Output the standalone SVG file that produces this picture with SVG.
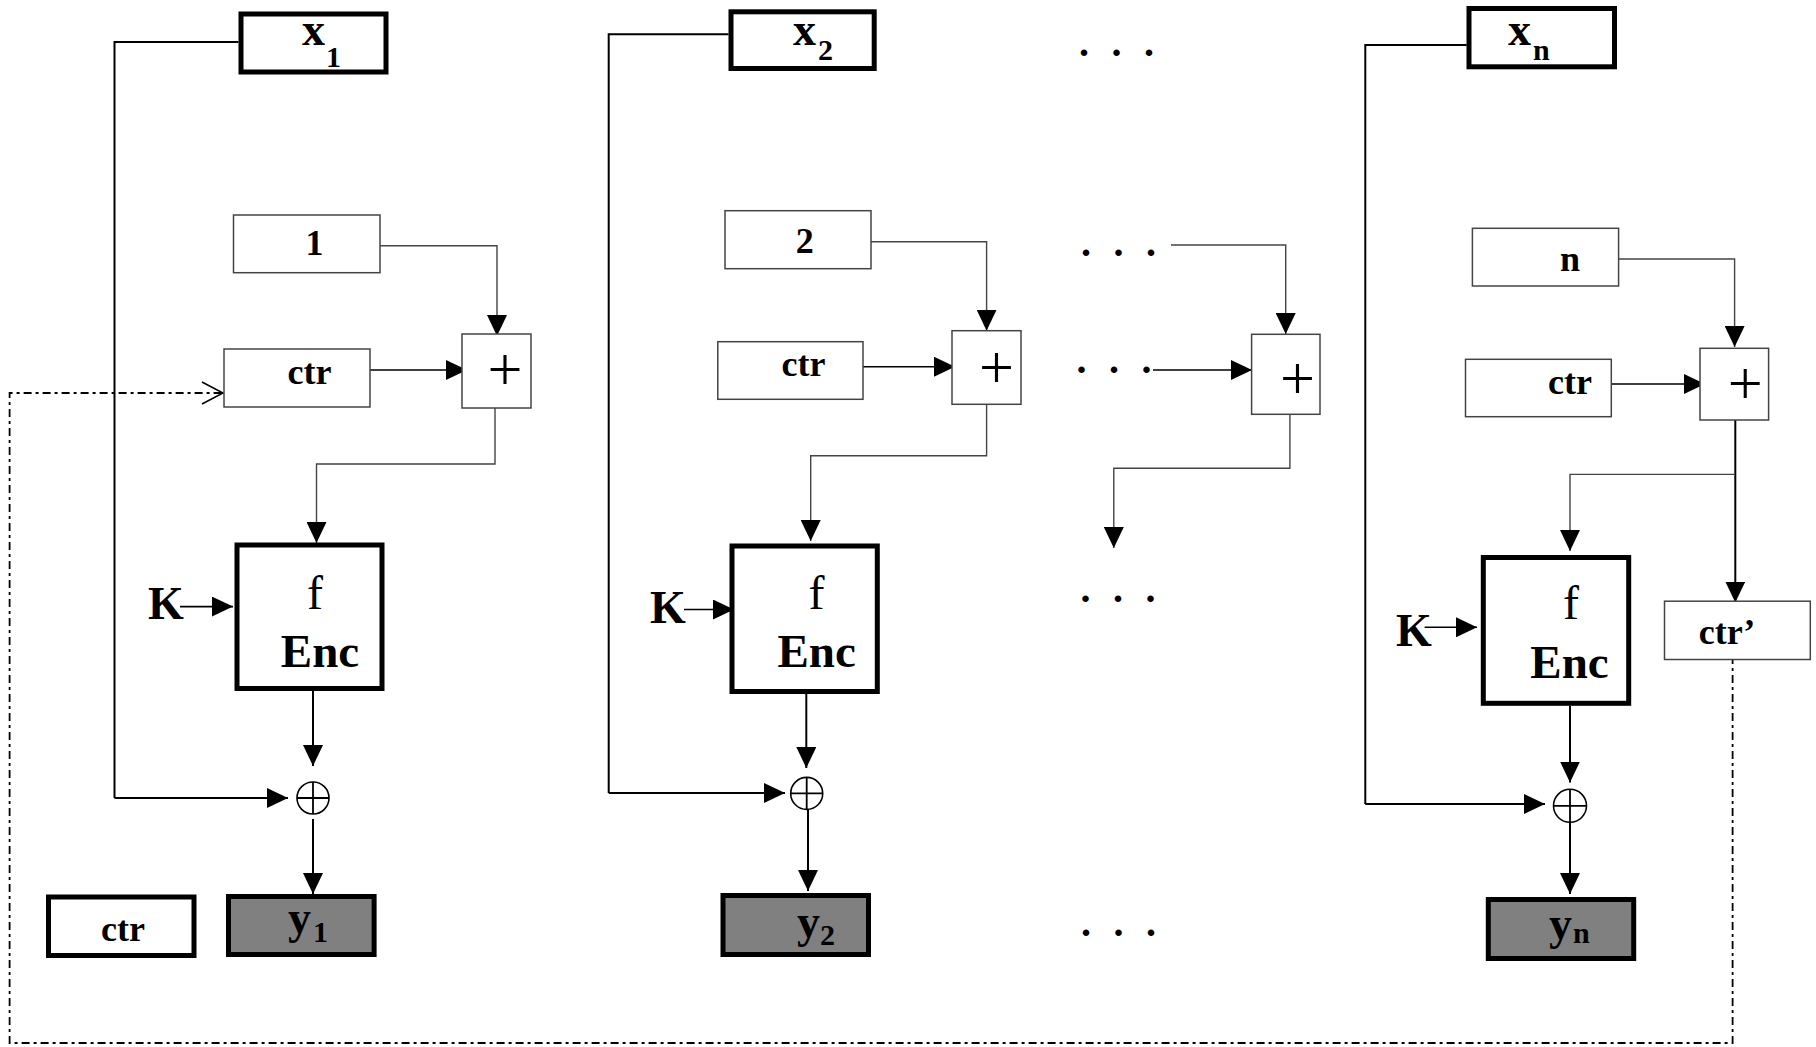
<svg xmlns="http://www.w3.org/2000/svg" width="1816" height="1047" viewBox="0 0 1816 1047">
<style>
.bg{fill:#fff}
.thick{fill:#fff;stroke:#000;stroke-width:5}
.out{fill:#808080;stroke:#000;stroke-width:5}
.thin{fill:#fff;stroke:#444;stroke-width:1.5}
.t{font-family:"Liberation Serif","Times New Roman",serif;font-weight:bold;fill:#000}
.big{font-size:46px}
.mid{font-size:36px}
.sub{font-size:30px}
.enc{font-size:47px}
.f{font-family:"Liberation Serif","Times New Roman",serif;font-size:48px;font-weight:normal;fill:#000}
.plus{font-family:"Liberation Serif","Times New Roman",serif;font-size:62px;font-weight:normal;fill:#000}
.dots{font-family:"Liberation Serif","Times New Roman",serif;font-size:40px;font-weight:bold;letter-spacing:22.5px;fill:#000}
.c{text-anchor:middle}
.w{fill:none;stroke:#000;stroke-width:2}
.a{fill:none;stroke:#000;stroke-width:1.6;marker-end:url(#arr)}
.g{fill:none;stroke:#444;stroke-width:1.4}
.ga{fill:none;stroke:#444;stroke-width:1.4;marker-end:url(#arr)}
.xa{fill:none;stroke:#000;stroke-width:2;marker-end:url(#arr)}
.dd{fill:none;stroke:#000;stroke-width:1.8;stroke-dasharray:8 4 3 4}
.xor circle{fill:#fff;stroke:#000;stroke-width:1.6}
.xor path{stroke:#000;stroke-width:1.8;fill:none}
</style>
<defs>
<marker id="arr" markerUnits="userSpaceOnUse" markerWidth="22" markerHeight="20" refX="21" refY="10" orient="auto">
<path d="M0,0 L21,10 L0,20 Z" fill="#000"/>
</marker>
<marker id="open" markerUnits="userSpaceOnUse" markerWidth="24" markerHeight="26" refX="22" refY="13" orient="auto">
<path d="M1,2 L22,13 L1,24" fill="none" stroke="#000" stroke-width="1.5"/>
</marker>
</defs>
<rect class="bg" x="0" y="0" width="1816" height="1047"/>

<g id="connectors">
<!-- column 1 -->
<path class="w" d="M238.5,42 H114.5 V798"/>
<path class="xa" d="M114.5,798 H288"/>
<path class="ga" d="M380,245.7 H497 V336"/>
<path class="a" d="M370,370 H467"/>
<path class="ga" d="M495,408 V464 H316.5 V543"/>
<path class="a" d="M180,606.6 H233"/>
<path class="xa" d="M313,691 V766"/>
<path class="xa" d="M313,819 V894"/>
<!-- column 2 -->
<path class="w" d="M728.5,34.3 H608.7 V793"/>
<path class="xa" d="M608.7,793 H785"/>
<path class="ga" d="M871,241.7 H986.6 V330.7"/>
<path class="a" d="M859,366.7 H955"/>
<path class="ga" d="M986.6,404.3 V455.8 H810.7 V541"/>
<path class="a" d="M684,609.5 H734"/>
<path class="xa" d="M806.3,694 V768"/>
<path class="xa" d="M808,810 V891"/>
<!-- middle -->
<path class="ga" d="M1171,245 H1285.7 V334"/>
<path class="a" d="M1153,370 H1252"/>
<path class="ga" d="M1289.9,414.3 V468.2 H1113.8 V548"/>
<!-- column n -->
<path class="w" d="M1466.7,45 H1365.3 V804"/>
<path class="xa" d="M1365.3,804 H1545"/>
<path class="ga" d="M1618.6,259 H1734.6 V347"/>
<path class="a" d="M1607,384 H1705"/>
<path class="xa" d="M1735.3,420 V602.5"/>
<path class="ga" d="M1734,474.4 H1570 V551"/>
<path class="a" d="M1424.6,627.3 H1477"/>
<path class="xa" d="M1570,705.8 V782.5"/>
<path class="xa" d="M1570,821.5 V894"/>
<!-- feedback ctr' -> ctr -->
<path class="dd" d="M1732.6,656 V1043 H9.6 V393 H223" marker-end="url(#open)"/>
</g>

<!-- column 1 nodes -->
<g id="x1"><rect class="thick" x="241" y="14" width="145" height="58"/>
<text class="t big" x="302" y="45">x<tspan class="sub" x="326" y="67">1</tspan></text></g>
<g id="one"><rect class="thin" x="233.5" y="215" width="146.5" height="57.7"/>
<text class="t mid c" x="314.6" y="255">1</text></g>
<g id="ctr1"><rect class="thin" x="224" y="349" width="146" height="58"/>
<text class="t mid c" x="309.6" y="384">ctr</text></g>
<g id="plus1"><rect class="thin" x="462" y="334" width="69" height="74"/>
<text class="plus c" x="505" y="390">+</text></g>
<g id="enc1"><rect class="thick" x="237" y="545" width="145" height="143.5"/>
<text class="f c" x="315" y="608.7">f</text>
<text class="t enc c" x="320" y="666.5">Enc</text></g>
<g id="k1"><text class="t big" x="148" y="619">K</text></g>
<g id="xor1" class="xor"><circle cx="313" cy="798" r="16"/><path d="M297,798 H329 M313,782 V814"/></g>
<g id="y1"><rect class="out" x="228.5" y="896.5" width="145.6" height="58"/>
<text class="t big" x="288" y="933">y<tspan class="sub" x="313" y="942">1</tspan></text></g>
<g id="ctr0"><rect class="thick" x="48.5" y="897" width="145.5" height="58.5"/>
<text class="t mid c" x="123" y="940.5">ctr</text></g>

<!-- column 2 nodes -->
<g id="x2"><rect class="thick" x="731" y="11.8" width="143.2" height="56.7"/>
<text class="t big" x="793" y="45">x<tspan class="sub" x="818" y="60">2</tspan></text></g>
<g id="two"><rect class="thin" x="725" y="210.7" width="146" height="58"/>
<text class="t mid c" x="804.7" y="253">2</text></g>
<g id="ctr2"><rect class="thin" x="717.8" y="341.7" width="145.2" height="57.6"/>
<text class="t mid c" x="803.6" y="376">ctr</text></g>
<g id="plus2"><rect class="thin" x="952" y="330.7" width="69" height="73.6"/>
<text class="plus c" x="996.4" y="387.7">+</text></g>
<g id="enc2"><rect class="thick" x="732" y="546" width="145.3" height="145.5"/>
<text class="f c" x="816.6" y="608.7">f</text>
<text class="t enc c" x="816.6" y="666.5">Enc</text></g>
<g id="k2"><text class="t big" x="650" y="623">K</text></g>
<g id="xor2" class="xor"><circle cx="806.7" cy="793.4" r="16"/><path d="M790.7,793.4 H822.7 M806.7,777.4 V809.4"/></g>
<g id="y2"><rect class="out" x="723" y="895.5" width="145.5" height="59"/>
<text class="t big" x="797" y="937">y<tspan class="sub" x="820" y="944.6">2</tspan></text></g>

<!-- middle -->
<g id="dots">
<text class="dots" x="1079" y="56">...</text>
<text class="dots" x="1081" y="256">...</text>
<text class="dots" x="1076.5" y="372.5">...</text>
<text class="dots" x="1080.5" y="601.5">...</text>
<text class="dots" x="1081" y="936">...</text>
</g>
<g id="plus3"><rect class="thin" x="1251.6" y="334.3" width="68.4" height="80"/>
<text class="plus c" x="1297.5" y="399.3">+</text></g>

<!-- column n nodes -->
<g id="xn"><rect class="thick" x="1469" y="8.5" width="145.5" height="58.3"/>
<text class="t big" x="1508" y="45">x<tspan class="sub" x="1533" y="60">n</tspan></text></g>
<g id="nbox"><rect class="thin" x="1472.4" y="228.3" width="146.2" height="57.7"/>
<text class="t mid c" x="1570" y="270.7">n</text></g>
<g id="ctrn"><rect class="thin" x="1465.5" y="359.3" width="145.8" height="57.4"/>
<text class="t mid c" x="1570" y="394.3">ctr</text></g>
<g id="plusn"><rect class="thin" x="1700" y="348.3" width="68.6" height="71.7"/>
<text class="plus c" x="1745.3" y="404.3">+</text></g>
<g id="encn"><rect class="thick" x="1483.3" y="557.5" width="145.4" height="145.8"/>
<text class="f c" x="1571" y="619">f</text>
<text class="t enc c" x="1569.5" y="677.7">Enc</text></g>
<g id="kn"><text class="t big" x="1396" y="645.9">K</text></g>
<g id="xorn" class="xor"><circle cx="1570" cy="805.8" r="16.5"/><path d="M1553.5,805.8 H1586.5 M1570,789.3 V822.3"/></g>
<g id="yn"><rect class="out" x="1488.3" y="899.5" width="145.4" height="59"/>
<text class="t big" x="1549" y="939">y<tspan class="sub" x="1573" y="943.4">n</tspan></text></g>
<g id="ctrp"><rect class="thin" x="1664.5" y="601.2" width="145.8" height="58.3"/>
<text class="t mid c" x="1727" y="643.8">ctr’</text></g>
</svg>
